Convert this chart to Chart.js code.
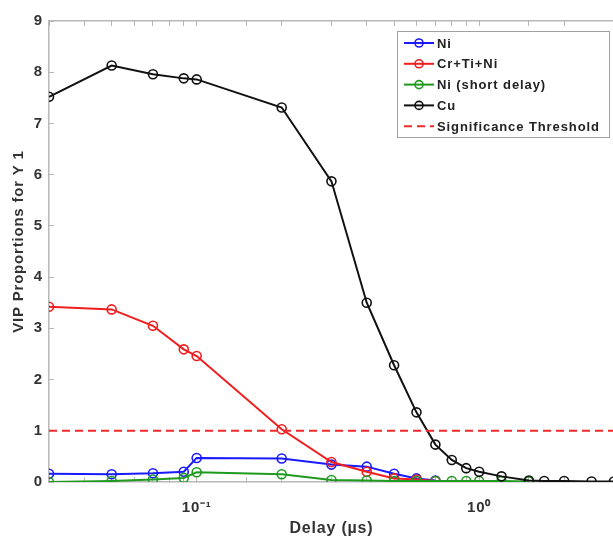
<!DOCTYPE html>
<html>
<head>
<meta charset="utf-8">
<script src="https://cdn.jsdelivr.net/npm/chart.js@4.4.0/dist/chart.umd.min.js"></script>
<style>
  html, body { margin: 0; padding: 0; background: #fff; overflow: hidden; }
  #wrap { width: 613px; height: 539px; overflow: hidden; }
</style>
</head>
<body>
<div id="wrap"><canvas id="vipChart" width="620" height="539"></canvas></div>
<script>
// delays in µs
const delayLong = [0.03, 0.05, 0.07, 0.09, 0.1, 0.2, 0.3, 0.4, 0.5, 0.6, 0.7];
const delayShort = [0.03, 0.05, 0.07, 0.09, 0.1, 0.2, 0.3, 0.4, 0.5, 0.6, 0.7, 0.8, 0.9, 1.0, 1.2, 1.5];
const delayCu = [0.03, 0.05, 0.07, 0.09, 0.1, 0.2, 0.3, 0.4, 0.5, 0.6, 0.7, 0.8, 0.9, 1.0, 1.2, 1.5, 1.7, 2.0, 2.5, 3.0];

const niVals = [0.16, 0.15, 0.17, 0.2, 0.47, 0.46, 0.34, 0.3, 0.16, 0.07, 0.03];
const crTiNiVals = [3.42, 3.37, 3.05, 2.59, 2.46, 1.03, 0.39, 0.2, 0.07, 0.05, 0.02];
const niShortVals = [0.0, 0.02, 0.05, 0.08, 0.19, 0.15, 0.04, 0.03, 0.02, 0.02, 0.02, 0.02, 0.02, 0.02, 0.02, 0.01];
const cuVals = [7.52, 8.13, 7.96, 7.88, 7.86, 7.31, 5.87, 3.5, 2.28, 1.36, 0.73, 0.43, 0.27, 0.2, 0.11, 0.03, 0.02, 0.02, 0.01, 0.01];

const thresholdX = [0.03, 3];
const thresholdVal = 1;

const yTicks = [0, 1, 2, 3, 4, 5, 6, 7, 8, 9];
const xTickLabels = { '-1': '10\u207B\u00B9', '0': '10\u2070' };

const FONT = "'Liberation Sans', Arial, Helvetica, sans-serif";
const TEXT = '#333333';
const AXIS = '#b8b8b8';

function pts(xs, ys) {
  return xs.map((x, i) => ({ x: x, y: ys[i] }));
}

function series(label, color, xs, ys, order) {
  return {
    label: label,
    data: pts(xs, ys),
    borderColor: color,
    backgroundColor: 'rgba(0,0,0,0)',
    borderWidth: 2,
    pointRadius: 4.5,
    pointBorderWidth: 1.6,
    pointBorderColor: color,
    pointBackgroundColor: 'rgba(0,0,0,0)',
    tension: 0,
    order: order,
  };
}

const datasets = [
  series('Ni', '#1a1aff', delayLong, niVals, 4),
  series('Cr+Ti+Ni', '#f01e1e', delayLong, crTiNiVals, 3),
  series('Ni (short delay)', '#1f9a1f', delayShort, niShortVals, 2),
  series('Cu', '#111111', delayCu, cuVals, 1),
  {
    label: 'Significance Threshold',
    data: thresholdX.map(x => ({ x: x, y: thresholdVal })),
    borderColor: '#ee2a2a',
    borderWidth: 2,
    borderDash: [8, 5],
    pointRadius: 0,
    order: 0,
  },
];

// the reference text is set wide, so spread all canvas text a little
const wideText = {
  id: 'wideText',
  beforeDraw(chart) { chart.ctx.letterSpacing = '0.8px'; },
};

// MATLAB style legend box, top right
const boxLegend = {
  id: 'boxLegend',
  afterDraw(chart) {
    const ctx = chart.ctx;
    const x0 = 397, y0 = 31, w = 212, h = 106;
    ctx.save();
    ctx.fillStyle = '#fff';
    ctx.fillRect(x0, y0, w, h);
    ctx.strokeStyle = '#a0a0a0';
    ctx.lineWidth = 1;
    ctx.strokeRect(x0 + 0.5, y0 + 0.5, w, h);
    ctx.font = 'bold 13px ' + FONT;
    ctx.letterSpacing = '0.9px';
    ctx.textBaseline = 'middle';
    chart.data.datasets.forEach((ds, i) => {
      const y = y0 + 12 + i * 20.8;
      ctx.strokeStyle = ds.borderColor;
      ctx.lineWidth = 2;
      ctx.setLineDash(ds.borderDash || []);
      ctx.beginPath();
      ctx.moveTo(x0 + 7, y);
      ctx.lineTo(x0 + 37, y);
      ctx.stroke();
      ctx.setLineDash([]);
      if (ds.pointRadius !== 0) {
        ctx.lineWidth = 1.6;
        ctx.beginPath();
        ctx.arc(x0 + 22, y, 4, 0, Math.PI * 2);
        ctx.stroke();
      }
      ctx.fillStyle = '#222';
      ctx.fillText(ds.label, x0 + 40, y + 1);
    });
    ctx.restore();
  }
};

new Chart(document.getElementById('vipChart'), {
  type: 'line',
  data: { datasets: datasets },
  options: {
    responsive: false,
    animation: false,
    layout: { padding: { top: 21, right: 0, left: 0, bottom: 0 } },
    plugins: {
      legend: { display: false },
      tooltip: { enabled: false },
    },
    scales: {
      x: {
        type: 'logarithmic',
        position: 'bottom',
        min: 0.03,
        max: 3,
        afterFit: (scale) => { scale.height = 57; scale.paddingRight = 0; scale.paddingLeft = 0; },
        grid: { display: true, drawOnChartArea: false, drawTicks: true, tickLength: -5, color: AXIS },
        border: { display: true, color: AXIS, width: 1.5 },
        ticks: {
          autoSkip: false,
          maxRotation: 0,
          padding: 22,
          color: TEXT,
          font: { family: FONT, size: 15, weight: 'bold' },
          callback: (v) => {
            const e = Math.log10(v);
            if (Math.abs(e - Math.round(e)) < 1e-6) {
              return xTickLabels[String(Math.round(e))] || '';
            }
            return '';
          },
        },
        title: {
          display: true,
          text: 'Delay (\u00B5s)',
          color: TEXT,
          font: { family: FONT, size: 16, weight: 'bold' },
          padding: { top: 0, bottom: 1 },
        },
      },
      xTop: {
        type: 'logarithmic',
        position: 'top',
        min: 0.03,
        max: 3,
        afterFit: (scale) => { scale.height = 0; scale.paddingRight = 0; scale.paddingLeft = 0; },
        grid: { display: true, drawOnChartArea: false, drawTicks: true, tickLength: -5, color: AXIS },
        border: { display: true, color: AXIS, width: 1.5 },
        ticks: { display: false },
      },
      y: {
        type: 'linear',
        min: yTicks[0],
        max: yTicks[yTicks.length - 1],
        afterFit: (scale) => { scale.width = 49; },
        afterBuildTicks: (scale) => { scale.ticks = yTicks.map(v => ({ value: v })); },
        grid: { display: true, drawOnChartArea: false, drawTicks: true, tickLength: -5, color: AXIS },
        border: { display: true, color: AXIS, width: 1.5 },
        ticks: {
          padding: 11,
          color: TEXT,
          font: { family: FONT, size: 15, weight: 'bold' },
        },
        title: {
          display: true,
          text: '\u00A0\u00A0\u00A0\u00A0VIP Proportions for Y 1',
          color: TEXT,
          font: { family: FONT, size: 15, weight: 'bold' },
          padding: { top: 10, bottom: 0 },
        },
      },
    },
  },
  plugins: [wideText, boxLegend],
});
</script>
</body>
</html>
